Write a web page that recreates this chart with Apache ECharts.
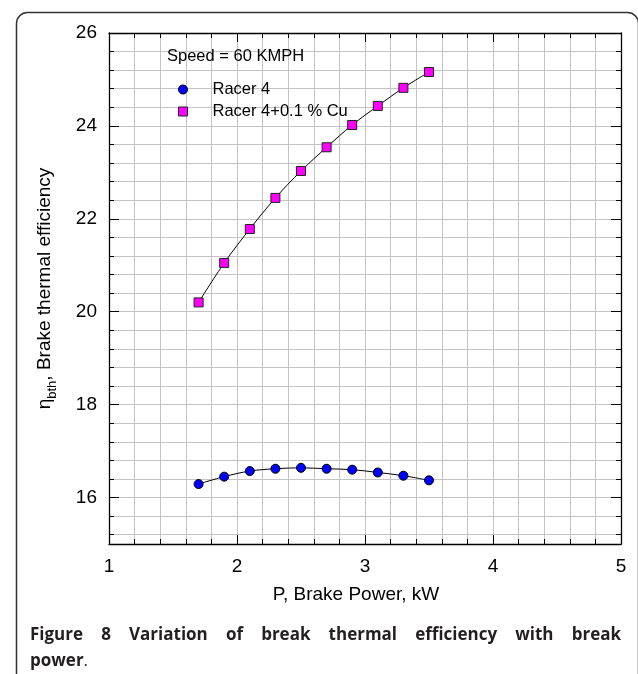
<!DOCTYPE html>
<html>
<head>
<meta charset="utf-8">
<script src="https://cdn.jsdelivr.net/npm/echarts@6/dist/echarts.min.js"></script>
<style>
  html, body { margin: 0; padding: 0; background: #fff; }
  #chart { width: 638px; height: 674px; }
</style>
</head>
<body>
<div id="chart"></div>
<script>
// Brake power (kW) at each measured point
const powerKW = [1.7, 1.9, 2.1, 2.3, 2.5, 2.7, 2.9, 3.1, 3.3, 3.5];
// Brake thermal efficiency (%) for each fuel
const racer4 = [16.29, 16.45, 16.57, 16.62, 16.64, 16.62, 16.60, 16.54, 16.47, 16.37];
const racer4Cu = [20.20, 21.05, 21.78, 22.45, 23.03, 23.54, 24.02, 24.43, 24.82, 25.16];

const seriesNames = ['Racer 4', 'Racer 4+0.1 % Cu'];

// Axis ticks
const xTickLabels = [1, 2, 3, 4, 5];
const yLabelValues = [16, 18, 20, 22, 24, 26];
const yMinorTicks = [15.2, 15.6, 16, 16.4, 16.8, 17.2, 17.6, 18, 18.4, 18.8, 19.2, 19.6,
  20, 20.4, 20.8, 21.2, 21.6, 22, 22.4, 22.8, 23.2, 23.6, 24, 24.4, 24.8, 25.2, 25.6, 26];

const FONT = '"Liberation Sans", Arial, sans-serif';
const CAPTION_FONT = '"Open Sans", sans-serif';
const GRID_GRAY = '#c4c4c4';

const chart = echarts.init(document.getElementById('chart'), null, { renderer: 'canvas' });

function pairs(xs, ys) { return xs.map((x, i) => [x, ys[i]]); }

// Justified caption line: spread the words between x0 and x1
function justifiedWords(words, x0, x1, y, size) {
  const ctx = document.createElement('canvas').getContext('2d');
  ctx.font = 'bold ' + size + 'px ' + CAPTION_FONT;
  const widths = words.map(w => ctx.measureText(w).width);
  const total = widths.reduce((a, b) => a + b, 0);
  const gap = (x1 - x0 - total) / (words.length - 1);
  let x = x0;
  return words.map((w, i) => {
    const el = {
      type: 'text', left: x, top: y,
      style: { text: w, font: 'bold ' + size + 'px ' + CAPTION_FONT, fill: '#231f20' }
    };
    x += widths[i] + gap;
    return el;
  });
}

const captionWords = ['Figure', '8', 'Variation', 'of', 'break', 'thermal', 'efficiency', 'with', 'break'];

const yBase = {
  type: 'value', min: 15, max: 26, splitLine: { show: false }
};

const option = {
  backgroundColor: '#fff',
  animation: false,
  grid: { left: 109, right: 17, top: 33, bottom: 130, containLabel: false },
  legend: {
    orient: 'vertical',
    left: 173, top: 76,
    itemWidth: 9, itemHeight: 9, itemGap: 5,
    itemStyle: { borderColor: '#222', borderWidth: 1 },
    data: [
      { name: seriesNames[0], icon: 'circle', itemStyle: { color: '#0000ff', borderColor: '#000', borderWidth: 1 } },
      { name: seriesNames[1], icon: 'rect', itemStyle: { color: '#ff00ff', borderColor: '#222', borderWidth: 1 } }
    ],
    textStyle: { fontFamily: FONT, fontSize: 16.5, color: '#000', padding: [0, 0, 0, 20] }
  },
  xAxis: [
    {
      type: 'value', position: 'bottom', min: 1, max: 5, interval: 1,
      axisLine: { show: true, lineStyle: { color: '#000', width: 1.3 } },
      axisTick: { show: true, inside: true, length: 9, lineStyle: { color: '#000' } },
      minorTick: { show: true, splitNumber: 5, length: 5, lineStyle: { color: '#000' } },
      splitLine: { show: true, lineStyle: { color: GRID_GRAY, width: 1 } },
      minorSplitLine: { show: true, lineStyle: { color: GRID_GRAY, width: 1 } },
      axisLabel: {
        fontFamily: FONT, fontSize: 19, color: '#000', margin: 13,
        customValues: xTickLabels
      },
      name: 'P, Brake Power, kW', nameLocation: 'middle', nameGap: 41,
      nameTextStyle: { fontFamily: FONT, fontSize: 19, color: '#000', padding: [0, 18, 0, 0] }
    },
    {
      type: 'value', position: 'top', min: 1, max: 5, interval: 1,
      axisLine: { show: true, lineStyle: { color: '#000', width: 1.3 } },
      axisTick: { show: true, inside: true, length: 9, lineStyle: { color: '#000' } },
      minorTick: { show: true, splitNumber: 5, length: 5, lineStyle: { color: '#000' } },
      splitLine: { show: false },
      axisLabel: { show: false }
    }
  ],
  yAxis: [
    Object.assign({}, yBase, {
      position: 'left',
      axisLine: { show: true, lineStyle: { color: '#000', width: 1.3 } },
      axisTick: { show: true, inside: true, length: 5, customValues: yMinorTicks, lineStyle: { color: '#000' } },
      splitLine: { show: true, lineStyle: { color: GRID_GRAY, width: 1 } },
      axisLabel: {
        fontFamily: FONT, fontSize: 19, color: '#000', margin: 12,
        customValues: yLabelValues
      },
      name: '{m|η}{sub|bth}{m|, Brake thermal efficiency}',
      nameLocation: 'middle', nameRotate: 90, nameGap: 50,
      nameTextStyle: {
        fontFamily: FONT, fontSize: 19, color: '#000',
        rich: {
          m: { fontFamily: FONT, fontSize: 19, color: '#000', lineHeight: 28, verticalAlign: 'middle' },
          sub: { fontFamily: FONT, fontSize: 13, color: '#000', lineHeight: 13, verticalAlign: 'bottom' }
        }
      }
    }),
    Object.assign({}, yBase, {
      position: 'left',
      axisLine: { show: false },
      axisTick: { show: true, inside: true, length: 10, customValues: yLabelValues, lineStyle: { color: '#000' } },
      axisLabel: { show: false }
    }),
    Object.assign({}, yBase, {
      position: 'right',
      axisLine: { show: true, lineStyle: { color: '#000', width: 1.3 } },
      axisTick: { show: true, inside: true, length: 5, customValues: yMinorTicks, lineStyle: { color: '#000' } },
      axisLabel: { show: false }
    }),
    Object.assign({}, yBase, {
      position: 'right',
      axisLine: { show: false },
      axisTick: { show: true, inside: true, length: 10, customValues: yLabelValues, lineStyle: { color: '#000' } },
      axisLabel: { show: false }
    })
  ],
  series: [
    {
      name: seriesNames[0], type: 'line', smooth: 0.35,
      xAxisIndex: 0, yAxisIndex: 0,
      data: pairs(powerKW, racer4),
      symbol: 'circle', symbolSize: 9, showAllSymbol: true,
      lineStyle: { color: '#000', width: 1 },
      itemStyle: { color: '#0000ff', borderColor: '#000', borderWidth: 1 },
      z: 3
    },
    {
      name: seriesNames[1], type: 'line', smooth: 0.35,
      xAxisIndex: 0, yAxisIndex: 0,
      data: pairs(powerKW, racer4Cu),
      symbol: 'rect', symbolSize: 9, showAllSymbol: true,
      lineStyle: { color: '#000', width: 1 },
      itemStyle: { color: '#ff00ff', borderColor: '#222', borderWidth: 1 },
      z: 3
    }
  ],
  graphic: [
    {
      type: 'rect', left: 14, top: 10, z: 0, silent: true,
      shape: { width: 622, height: 720, r: 11 },
      style: { fill: 'none', stroke: '#333', lineWidth: 1.5 }
    },
    {
      type: 'text', left: 167, top: 48, z: 10,
      style: { text: 'Speed = 60 KMPH', font: '16.5px ' + FONT, fill: '#000' }
    }
  ].concat(justifiedWords(captionWords, 30, 621, 627, 17)).concat([
    {
      type: 'text', left: 30, top: 653,
      style: {
        text: '{b|power}{n|.}',
        rich: {
          b: { font: 'bold 17px ' + CAPTION_FONT, fill: '#231f20' },
          n: { font: '17px ' + CAPTION_FONT, fill: '#231f20' }
        }
      }
    }
  ])
};

chart.setOption(option);
</script>
</body>
</html>
